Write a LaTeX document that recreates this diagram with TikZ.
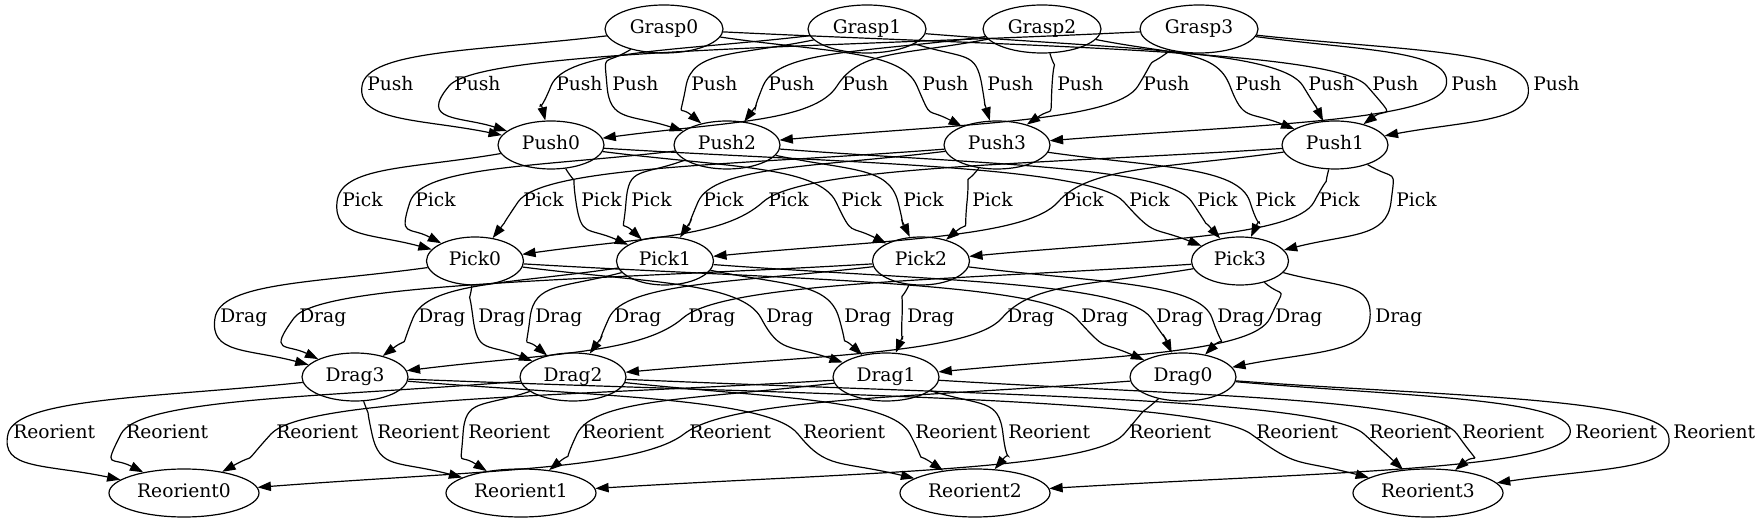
\documentclass[tikz,border=0pt]{standalone}
\usepackage{fontspec}
\setmainfont{DejaVu Serif}
\usetikzlibrary{shapes.geometric,arrows.meta}
\tikzset{
 gnode/.style={ellipse, draw, line width=0.9pt, inner sep=0pt, minimum height=36pt,
   text height=10.2pt, text depth=3pt, font=\fontsize{14pt}{16pt}\selectfont},
 stGrasp/.style={gnode, minimum width=88.5pt},
 stPush/.style={gnode, minimum width=79.5pt},
 stPick/.style={gnode, minimum width=72.75pt},
 stDrag/.style={gnode, minimum width=79.5pt},
 stReor/.style={gnode, minimum width=112.5pt},
 lbl/.style={anchor=west, inner sep=0pt, text height=10.2pt, text depth=3pt,
   font=\fontsize{14pt}{16pt}\selectfont},
 conn/.style={line width=0.9pt, -{Triangle[length=10pt,width=7pt]}},
}
% label + via coordinate
\newcommand{\glab}[4]{\node[lbl] (l#1) at (#2,#3) {#4};\coordinate (v#1) at ({#2-5},#3);}
% edge src -> via -> tgt
\newcommand{\gedge}[3]{%
  \path (#1); \pgfgetlastxy{\gEax}{\gEay}%
  \path (#2); \pgfgetlastxy{\gEbx}{\gEby}%
  \path (#3); \pgfgetlastxy{\gEcx}{\gEcy}%
  \pgfmathsetmacro\gEtn{0.15*((\gEcx)-(\gEax))/87}%
  \pgfmathsetmacro\gEdv{27*sqrt(1+\gEtn*\gEtn)}%
  \pgfmathsetmacro\gEqx{(\gEbx)-\gEtn*16.2}%
  \pgfmathsetmacro\gEqy{(\gEby)+16.2}%
  \pgfmathsetmacro\gEpx{(\gEbx)+\gEtn*16.2}%
  \pgfmathsetmacro\gEpy{(\gEby)-16.2}%
  \pgfmathsetmacro\gEaone{atan2(\gEqy-(\gEay),\gEqx-(\gEax))}%
  \pgfmathsetmacro\gEatwo{atan2(\gEpy-(\gEcy),\gEpx-(\gEcx))}%
  \pgfmathsetmacro\gEdone{0.42*veclen((\gEbx)-(\gEax),(\gEby)-(\gEay))}%
  \pgfmathsetmacro\gEdtwo{0.42*veclen((\gEcx)-(\gEbx),(\gEcy)-(\gEby))}%
  \pgfmathsetmacro\gEaout{atan2(-1,\gEtn)}%
  \pgfmathsetmacro\gEain{atan2(1,-\gEtn)}%
  \draw[conn] (#1) to[out=\gEaone, in=\gEain, out distance=\gEdone pt, in distance=\gEdv pt] (#2)
     to[out=\gEaout, in=\gEatwo, out distance=\gEdv pt, in distance=\gEdtwo pt] (#3);
}
\begin{document}
\begin{tikzpicture}[x=0.75pt,y=-0.75pt]
\useasboundingbox (0,0) rectangle (1760,523);
% nodes
\node[stGrasp] (Grasp0) at (664,29) {Grasp0};
\node[stGrasp] (Grasp1) at (867,29) {Grasp1};
\node[stGrasp] (Grasp2) at (1042,29) {Grasp2};
\node[stGrasp] (Grasp3) at (1199,29) {Grasp3};
\node[stPush] (Push0) at (551,145) {Push0};
\node[stPush] (Push2) at (727,145) {Push2};
\node[stPush] (Push3) at (997,145) {Push3};
\node[stPush] (Push1) at (1335,145) {Push1};
\node[stPick] (Pick0) at (475,261) {Pick0};
\node[stPick] (Pick1) at (665,261) {Pick1};
\node[stPick] (Pick2) at (921,261) {Pick2};
\node[stPick] (Pick3) at (1240,261) {Pick3};
\node[stDrag] (Drag3) at (355,377) {Drag3};
\node[stDrag] (Drag2) at (573,377) {Drag2};
\node[stDrag] (Drag1) at (886,377) {Drag1};
\node[stDrag] (Drag0) at (1183,377) {Drag0};
\node[stReor] (Reorient0) at (184,493) {Reorient0};
\node[stReor] (Reorient1) at (521,493) {Reorient1};
\node[stReor] (Reorient2) at (975,493) {Reorient2};
\node[stReor] (Reorient3) at (1428,493) {Reorient3};
% labels row 1
\glab{a1}{367}{86}{Push}\glab{a2}{454}{86}{Push}\glab{a3}{556}{86}{Push}\glab{a4}{612}{86}{Push}
\glab{a5}{691}{86}{Push}\glab{a6}{768}{86}{Push}\glab{a7}{842}{86}{Push}\glab{a8}{922}{86}{Push}
\glab{a9}{987}{86}{Push}\glab{a10}{1057}{86}{Push}\glab{a11}{1143}{86}{Push}\glab{a12}{1235}{86}{Push}
\glab{a13}{1308}{86}{Push}\glab{a14}{1372}{86}{Push}\glab{a15}{1451}{86}{Push}\glab{a16}{1533}{86}{Push}
% labels row 2
\glab{b1}{342}{202}{Pick}\glab{b2}{415}{202}{Pick}\glab{b3}{523}{202}{Pick}\glab{b4}{581}{202}{Pick}
\glab{b5}{631}{202}{Pick}\glab{b6}{703}{202}{Pick}\glab{b7}{768}{202}{Pick}\glab{b8}{841}{202}{Pick}
\glab{b9}{903}{202}{Pick}\glab{b10}{972}{202}{Pick}\glab{b11}{1063}{202}{Pick}\glab{b12}{1129}{202}{Pick}
\glab{b13}{1197}{202}{Pick}\glab{b14}{1255}{202}{Pick}\glab{b15}{1319}{202}{Pick}\glab{b16}{1396}{202}{Pick}
% labels row 3
\glab{c1}{220}{318}{Drag}\glab{c2}{299}{318}{Drag}\glab{c3}{418}{318}{Drag}\glab{c4}{478}{318}{Drag}
\glab{c5}{535}{318}{Drag}\glab{c6}{614}{318}{Drag}\glab{c7}{688}{318}{Drag}\glab{c8}{766}{318}{Drag}
\glab{c9}{844}{318}{Drag}\glab{c10}{907}{318}{Drag}\glab{c11}{1007}{318}{Drag}\glab{c12}{1081}{318}{Drag}
\glab{c13}{1156}{318}{Drag}\glab{c14}{1217}{318}{Drag}\glab{c15}{1275}{318}{Drag}\glab{c16}{1375}{318}{Drag}
% labels row 4
\glab{d1}{13}{434}{Reorient}\glab{d2}{126}{434}{Reorient}\glab{d3}{276}{434}{Reorient}\glab{d4}{377}{434}{Reorient}
\glab{d5}{468}{434}{Reorient}\glab{d6}{582}{434}{Reorient}\glab{d7}{689}{434}{Reorient}\glab{d8}{803}{434}{Reorient}
\glab{d9}{915}{434}{Reorient}\glab{d10}{1008}{434}{Reorient}\glab{d11}{1129}{434}{Reorient}\glab{d12}{1256}{434}{Reorient}
\glab{d13}{1369}{434}{Reorient}\glab{d14}{1462}{434}{Reorient}\glab{d15}{1575}{434}{Reorient}\glab{d16}{1673}{434}{Reorient}
% edges row 1
\gedge{Grasp0}{va1}{Push0}
\gedge{Grasp3}{va2}{Push0}
\gedge{Grasp1}{va3}{Push0}
\gedge{Grasp0}{va4}{Push2}
\gedge{Grasp1}{va5}{Push2}
\gedge{Grasp2}{va6}{Push2}
\gedge{Grasp2}{va7}{Push0}
\gedge{Grasp0}{va8}{Push3}
\gedge{Grasp1}{va9}{Push3}
\gedge{Grasp2}{va10}{Push3}
\gedge{Grasp3}{va11}{Push2}
\gedge{Grasp2}{va12}{Push1}
\gedge{Grasp1}{va13}{Push1}
\gedge{Grasp0}{va14}{Push1}
\gedge{Grasp3}{va15}{Push3}
\gedge{Grasp3}{va16}{Push1}
% edges row 2
\gedge{Push0}{vb1}{Pick0}
\gedge{Push2}{vb2}{Pick0}
\gedge{Push3}{vb3}{Pick0}
\gedge{Push0}{vb4}{Pick1}
\gedge{Push2}{vb5}{Pick1}
\gedge{Push3}{vb6}{Pick1}
\gedge{Push1}{vb7}{Pick0}
\gedge{Push0}{vb8}{Pick2}
\gedge{Push2}{vb9}{Pick2}
\gedge{Push3}{vb10}{Pick2}
\gedge{Push1}{vb11}{Pick1}
\gedge{Push0}{vb12}{Pick3}
\gedge{Push2}{vb13}{Pick3}
\gedge{Push3}{vb14}{Pick3}
\gedge{Push1}{vb15}{Pick2}
\gedge{Push1}{vb16}{Pick3}
% edges row 3
\gedge{Pick0}{vc1}{Drag3}
\gedge{Pick2}{vc2}{Drag3}
\gedge{Pick1}{vc3}{Drag3}
\gedge{Pick0}{vc4}{Drag2}
\gedge{Pick1}{vc5}{Drag2}
\gedge{Pick2}{vc6}{Drag2}
\gedge{Pick3}{vc7}{Drag3}
\gedge{Pick0}{vc8}{Drag1}
\gedge{Pick1}{vc9}{Drag1}
\gedge{Pick2}{vc10}{Drag1}
\gedge{Pick3}{vc11}{Drag2}
\gedge{Pick0}{vc12}{Drag0}
\gedge{Pick1}{vc13}{Drag0}
\gedge{Pick2}{vc14}{Drag0}
\gedge{Pick3}{vc15}{Drag1}
\gedge{Pick3}{vc16}{Drag0}
% edges row 4
\gedge{Drag3}{vd1}{Reorient0}
\gedge{Drag2}{vd2}{Reorient0}
\gedge{Drag1}{vd3}{Reorient0}
\gedge{Drag3}{vd4}{Reorient1}
\gedge{Drag2}{vd5}{Reorient1}
\gedge{Drag1}{vd6}{Reorient1}
\gedge{Drag0}{vd7}{Reorient0}
\gedge{Drag3}{vd8}{Reorient2}
\gedge{Drag2}{vd9}{Reorient2}
\gedge{Drag1}{vd10}{Reorient2}
\gedge{Drag0}{vd11}{Reorient1}
\gedge{Drag3}{vd12}{Reorient3}
\gedge{Drag2}{vd13}{Reorient3}
\gedge{Drag1}{vd14}{Reorient3}
\gedge{Drag0}{vd15}{Reorient2}
\gedge{Drag0}{vd16}{Reorient3}
\end{tikzpicture}
\end{document}
